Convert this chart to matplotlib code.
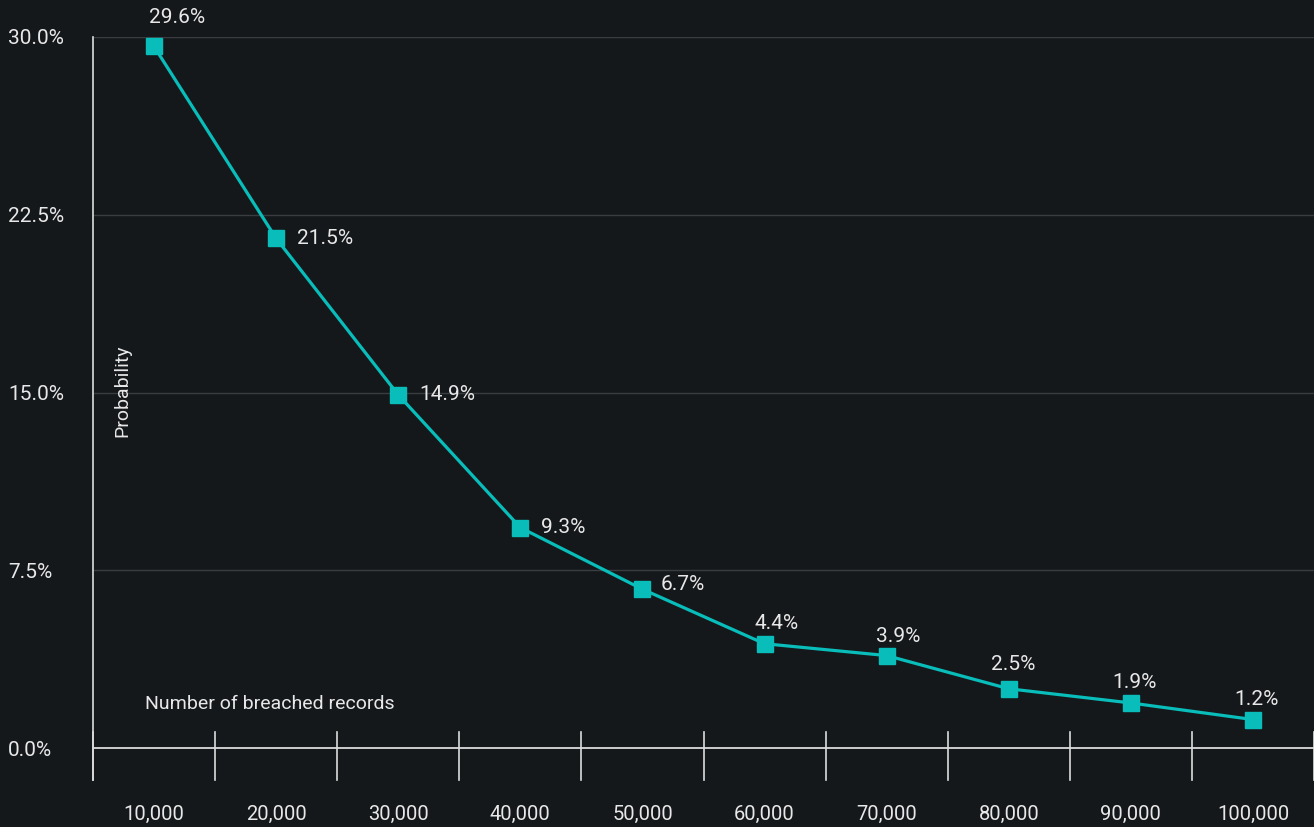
import matplotlib
matplotlib.use('Agg')
import matplotlib.pyplot as plt
import matplotlib.transforms as mtransforms

# data
records = ['10,000', '20,000', '30,000', '40,000', '50,000',
           '60,000', '70,000', '80,000', '90,000', '100,000']
probability = [29.6, 21.5, 14.9, 9.3, 6.7, 4.4, 3.9, 2.5, 1.9, 1.2]
y_ticks = [0.0, 7.5, 15.0, 22.5, 30.0]

# label offsets in pixels (dx, dy, ha)
label_pos = [(23, 29, 'center'), (21, 0, 'left'), (21, 0, 'left'), (21, 0, 'left'),
             (18, 5, 'left'), (12, 20, 'center'), (12, 19, 'center'),
             (4, 24, 'center'), (4, 20, 'center'), (4, 20, 'center')]

bg = '#15181b'
teal = '#08bdba'
fg = '#e8e8e8'
grid_c = '#3a3d40'

plt.rcParams['font.family'] = ['Roboto', 'DejaVu Sans']

fig = plt.figure(figsize=(13.14, 8.27), dpi=100, facecolor=bg)
W, H = 1314, 827
ax = fig.add_axes([93 / W, (H - 748) / H, 1221 / W, 711 / H])
ax.set_facecolor(bg)

x = list(range(len(records)))
ax.set_xlim(-0.5, len(records) - 0.5)
ax.set_ylim(0, 30)

# grid
for v in y_ticks[1:]:
    ax.axhline(v, color=grid_c, lw=1, zorder=0)

ax.plot(x, probability, color=teal, lw=2.3, marker='s', markersize=11,
        zorder=3, clip_on=False)

for xi, v, (dx, dy, ha) in zip(x, probability, label_pos):
    ax.annotate(f'{v:.1f}%', (xi, v), xytext=(dx, dy), textcoords='offset pixels',
                ha=ha, va='center', color=fg, fontsize=15)

# spines
for s in ['top', 'right']:
    ax.spines[s].set_visible(False)
ax.spines['left'].set_visible(False)
ax.spines['bottom'].set_color('#dcdcdc')
ax.spines['bottom'].set_linewidth(1.3)

# band ticks and left axis line
trans = mtransforms.blended_transform_factory(ax.transData, ax.transAxes)
for b in range(len(records) + 1):
    ax.plot([b - 0.5, b - 0.5], [16 / 711, -32 / 711], color='#dcdcdc', lw=1.2,
            transform=trans, clip_on=False)
ax.plot([-0.5, -0.5], [1, -32 / 711], color='#dcdcdc', lw=1.2,
        transform=trans, clip_on=False)

ax.set_xticks(x)
ax.set_xticklabels(records, color=fg, fontsize=14.5)
ax.tick_params(axis='x', length=0, pad=41)

ax.set_yticks(y_ticks)
ax.set_yticklabels([f'{v:.1f}%' for v in y_ticks], color=fg, fontsize=15, ha='left')
ax.tick_params(axis='y', length=0, pad=61)

ax.text(29 / 1221, 0.503, 'Probability', rotation=90, ha='center', va='center',
        color=fg, fontsize=14, transform=ax.transAxes)
ax.text(52 / 1221, 44 / 711, 'Number of breached records', ha='left', va='center',
        color=fg, fontsize=14, transform=ax.transAxes)

fig.savefig('out.png', dpi=100, facecolor=bg)
